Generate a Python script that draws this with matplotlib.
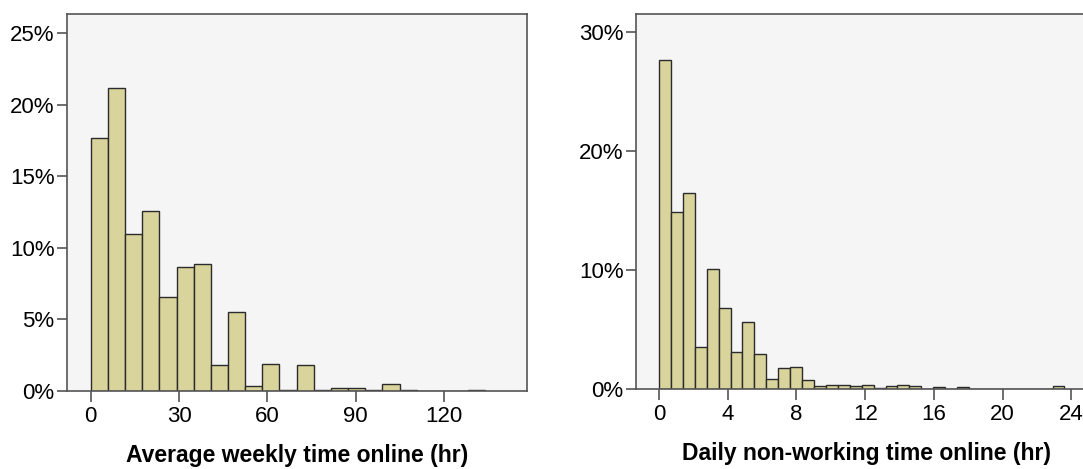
import numpy as np
import matplotlib.pyplot as plt
from matplotlib.ticker import FuncFormatter

# percent of respondents per bin
weekly_bin = 5.83
weekly_pct = [17.7, 21.2, 11.0, 12.6, 6.6, 8.7, 8.9, 1.8, 5.55, 0.35,
              1.9, 0.1, 1.8, 0.1, 0.2, 0.2, 0.1, 0.5, 0.1, 0.0,
              0.0, 0.0, 0.1]
weekly_ticks = [0, 30, 60, 90, 120]

daily_bin = 0.694
daily_pct = [27.6, 14.9, 16.5, 3.5, 10.1, 6.8, 3.1, 5.67, 2.95, 0.87,
             1.74, 1.88, 0.79, 0.25, 0.36, 0.36, 0.25, 0.36, 0.08, 0.25,
             0.36, 0.25, 0.0, 0.14, 0.0, 0.14, 0.0, 0.0, 0.0, 0.0,
             0.0, 0.0, 0.0, 0.25]
daily_ticks = [0, 4, 8, 12, 16, 20, 24]

bar_color = '#D8D49B'
edge_color = '#2b2b2b'
bg_color = '#F5F5F5'
frame_color = '#555555'

plt.rcParams['font.family'] = ['Liberation Sans', 'DejaVu Sans']

W, H = 1083, 469
fig = plt.figure(figsize=(W / 100, H / 100), dpi=100)


def draw(ax, pct, width, ticks, xlim, ylim, yticks, label):
    edges = np.arange(len(pct)) * width
    ax.bar(edges, pct, width=width, align='edge', color=bar_color,
           edgecolor=edge_color, linewidth=1.0, zorder=2)
    ax.set_facecolor(bg_color)
    ax.set_xlim(*xlim)
    ax.set_ylim(*ylim)
    ax.set_xticks(ticks)
    ax.set_yticks(yticks)
    ax.yaxis.set_major_formatter(FuncFormatter(lambda v, p: f"{v:.0f}%"))
    ax.tick_params(direction='out', length=7, width=1.2, color=frame_color,
                   labelsize=16, labelcolor='black', pad=2)
    ax.tick_params(axis='x', length=8, pad=3)
    for s in ax.spines.values():
        s.set_color(frame_color)
        s.set_linewidth(1.2)
    ax.set_xlabel(label, fontsize=16.5, fontweight='bold', labelpad=12)


ax1 = fig.add_axes([67 / W, (H - 391) / H, (527 - 67) / W, (391 - 14) / H])
draw(ax1, weekly_pct, weekly_bin, weekly_ticks, (-8.05, 148.2), (0, 26.35),
     [0, 5, 10, 15, 20, 25], 'Average weekly time online (hr)')

ax2 = fig.add_axes([636 / W, (H - 389) / H, (1098 - 636) / W, (389 - 14) / H])
draw(ax2, daily_pct, daily_bin, daily_ticks, (-1.34, 25.55), (0, 31.5),
     [0, 10, 20, 30], 'Daily non-working time online (hr)')
ax2.xaxis.label.set_position(((866 - 636) / (1098 - 636), 0))

fig.savefig('out.png', dpi=100)
